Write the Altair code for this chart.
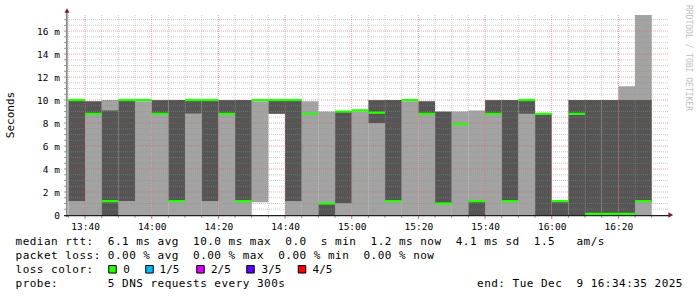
import altair as alt
import pandas as pd
import numpy as np

# ---------------- data ----------------
times = ["13:35", "13:40", "13:45", "13:50", "13:55", "14:00", "14:05", "14:10", "14:15", "14:20",
         "14:25", "14:30", "14:35", "14:40", "14:45", "14:50", "14:55", "15:00", "15:05", "15:10",
         "15:15", "15:20", "15:25", "15:30", "15:35", "15:40", "15:45", "15:50", "15:55", "16:00",
         "16:05", "16:10", "16:15", "16:20", "16:25"]
light_lo = [0, 0, 0, 0, 0, 0, 0, 0, 0, 0, 0, 1.1, None, 0, 0, 1.0, 0, 0, 0, 0,
            0, 0, 0, 0, 1.2, 0, 0, 0, None, None, None, None, None, 0, 0]
light_hi = [1.2, 8.8, 10, 1.2, 9.9, 8.8, 1.2, 8.8, 1.2, 8.8, 1.2, 9.9, None, 1.2, 9.9, 9.0, 1.0, 9.0, 8.0, 1.2,
            9.9, 8.8, 1.0, 9.0, 9.1, 8.8, 1.2, 8.8, None, None, None, None, None, 11.2, 17.4]
dark_lo = [1.2, 8.8, 0, 1.2, None, 8.8, 1.2, 8.8, 1.2, 8.8, 1.2, None, 8.8, 1.2, None, 0, 1.0, None, 8.0, 1.2,
           None, 8.8, 1.0, None, 0, 8.8, 1.2, 8.8, 0, 0, 0, 0, 0, 0, 1.2]
dark_hi = [10, 9.9, 9.1, 10, None, 10, 10, 10, 10, 10, 10, None, 10, 10, None, 1.0, 9.0, None, 10, 10,
           None, 9.9, 9.0, None, 1.2, 10, 10, 10, 8.8, 1.2, 10, 10, 10, 10, 10]
median = [10, 8.8, 1.2, 10, 10, 8.8, 1.2, 10, 10, 8.8, 1.2, 10, 10, 10, 8.8, 1.0, 9.0, 9.1, 8.9, 1.2,
          10, 8.8, 1.0, 7.9, 1.2, 8.8, 1.2, 10, 8.8, 1.2, 8.8, 0.1, 0.1, 0.1, 1.2]

x_tick_labels = ["13:40", "14:00", "14:20", "14:40", "15:00", "15:20", "15:40", "16:00", "16:20"]
y_ticks = [0, 2, 4, 6, 8, 10, 12, 14, 16]

info_lines = [
    "median rtt:  6.1 ms avg  10.0 ms max  0.0  s min  1.2 ms now  4.1 ms sd  1.5   am/s",
    "packet loss: 0.00 % avg  0.00 % max  0.00 % min  0.00 % now",
    "loss color:",
    "probe:       5 DNS requests every 300s",
]
end_text = "end: Tue Dec  9 16:34:35 2025"
loss_labels = ["0", "1/5", "2/5", "3/5", "4/5"]
loss_colors = ["#26ff00", "#00b8ff", "#dd00ff", "#5e00ff", "#ff0000"]

# ---------------- layout / style ----------------
X0, Y0, W, H = 67, 15, 600, 200
LIGHT, DARK, GREEN = "#a3a3a3", "#555555", "#26ff00"
FONT = "DejaVu Sans Mono"
NB = "\u00a0"


def to_min(s):
    h, m = s.split(":")
    return int(h) * 60 + int(m)


t_start = [to_min(t) for t in times]
t0 = 13 * 60 + 34 + 35 / 60.0
xscale = alt.Scale(domain=[t0, t0 + 180], nice=False, zero=False)
yscale = alt.Scale(domain=[0, 17.4], nice=False, zero=True)

xaxis = alt.Axis(values=[to_min(t) for t in x_tick_labels],
                 labelExpr="floor(datum.value/60) + ':' + (datum.value % 60 < 10 ? '0' : '') + (datum.value % 60)",
                 labelFont=FONT, labelFontSize=9.5, labelColor="#000000", labelPadding=6,
                 labelFlush=False, domain=False, ticks=False, grid=False, title=None)
yaxis = alt.Axis(values=y_ticks,
                 labelExpr="datum.value == 0 ? '0" + NB + NB + "' : datum.value + '" + NB + "m'",
                 labelFont=FONT, labelFontSize=9.5, labelColor="#000000", labelPadding=7.5,
                 domain=False, ticks=False, grid=False, title=None)

df = pd.DataFrame({"start": t_start, "end": [t + 5 for t in t_start],
                   "light_lo": light_lo, "light_hi": light_hi,
                   "dark_lo": dark_lo, "dark_hi": dark_hi, "median": median})

light = alt.Chart(df.dropna(subset=["light_lo"])).mark_rect(color=LIGHT).encode(
    x=alt.X("start:Q", scale=xscale, axis=xaxis), x2="end:Q",
    y=alt.Y("light_lo:Q", scale=yscale, axis=yaxis), y2="light_hi:Q")
dark = alt.Chart(df.dropna(subset=["dark_lo"])).mark_rect(color=DARK).encode(
    x=alt.X("start:Q", scale=xscale, axis=xaxis), x2="end:Q",
    y=alt.Y("dark_lo:Q", scale=yscale, axis=yaxis), y2="dark_hi:Q")

# grid positions (axis steps)
h_all = [round(v, 2) for v in np.arange(0.5, 17.01, 0.5)]
h_major = [v for v in h_all if v % 2 == 0]
h_minor = [v for v in h_all if v % 2 != 0]
v_all = list(range(815, 991, 5))
v_major = [v for v in v_all if (v - 820) % 20 == 0]
v_minor = [v for v in v_all if (v - 820) % 20 != 0]

hgrid_minor = alt.Chart(pd.DataFrame({"v": h_minor})).mark_rule(
    color="#8f8f8f", opacity=0.45, strokeDash=[1, 1], strokeWidth=1).encode(
    y=alt.Y("v:Q", scale=yscale, axis=yaxis), x=alt.value(0), x2=alt.value(W + 1))
hgrid_major = alt.Chart(pd.DataFrame({"v": h_major})).mark_rule(
    color="#e05050", opacity=0.5, strokeDash=[1, 1], strokeWidth=1).encode(
    y=alt.Y("v:Q", scale=yscale, axis=yaxis), x=alt.value(0), x2=alt.value(W + 1))
vgrid_minor = alt.Chart(pd.DataFrame({"v": v_minor})).mark_rule(
    color="#8f8f8f", opacity=0.45, strokeDash=[1, 1], strokeWidth=1).encode(
    x=alt.X("v:Q", scale=xscale, axis=xaxis), y=alt.value(0), y2=alt.value(H))
vgrid_major = alt.Chart(pd.DataFrame({"v": v_major})).mark_rule(
    color="#e05050", opacity=0.5, strokeDash=[1, 1], strokeWidth=1).encode(
    x=alt.X("v:Q", scale=xscale, axis=xaxis), y=alt.value(0), y2=alt.value(H))

ytick = alt.Chart(pd.DataFrame({"v": h_all})).mark_rule(color="#9a9a9a", strokeWidth=1).encode(
    y=alt.Y("v:Q", scale=yscale, axis=yaxis), x=alt.value(-3), x2=alt.value(-1))
xtick_minor = alt.Chart(pd.DataFrame({"v": v_minor})).mark_rule(color="#9a9a9a", strokeWidth=1).encode(
    x=alt.X("v:Q", scale=xscale, axis=xaxis), y=alt.value(H + 1), y2=alt.value(H + 3))
xtick_major = alt.Chart(pd.DataFrame({"v": v_major})).mark_rule(color="#e07070", strokeWidth=1).encode(
    x=alt.X("v:Q", scale=xscale, axis=xaxis), y=alt.value(H + 1), y2=alt.value(H + 4))

med = alt.Chart(df).mark_rule(color=GREEN, strokeWidth=2.3, strokeCap="butt").encode(
    x=alt.X("start:Q", scale=xscale, axis=xaxis), x2="end:Q",
    y=alt.Y("median:Q", scale=yscale, axis=yaxis))

inner = alt.layer(light, dark, hgrid_minor, hgrid_major, vgrid_minor, vgrid_major, med,
                  ytick, xtick_minor, xtick_major)

# ---------------- legend / info text (monospace grid) ----------------
ADV, COL0 = 7.1, 15.3
rows = []
lines = list(info_lines)
lines[3] = lines[3] + " " * (65 - len(lines[3])) + end_text
for li, s in enumerate(lines):
    for col, ch in enumerate(s):
        if ch != " ":
            rows.append({"px": COL0 + col * ADV + ADV / 2 - X0,
                         "py": 244.7 + 14.0 * li - Y0, "ch": ch})
chars = alt.Chart(pd.DataFrame(rows)).mark_text(
    font=FONT, fontSize=11, color="#000000", align="center", baseline="alphabetic").encode(
    x=alt.X("px:Q", scale=None, axis=None), y=alt.Y("py:Q", scale=None, axis=None), text="ch:N")

box_x = [112.5, 149.5, 200.5, 250.5, 302.0]
lab_x = [123.3, 159.6, 211.0, 261.6, 312.6]
leg = pd.DataFrame({"label": loss_labels, "color": loss_colors,
                    "bx": [b - X0 for b in box_x], "lx": [l - X0 for l in lab_x]})
leg["by"] = 269.3 - Y0
leg["ly"] = 273.0 - Y0
boxes = alt.Chart(leg).mark_point(shape="square", filled=True, size=56, stroke="#000000",
                                  strokeWidth=1, opacity=1).encode(
    x=alt.X("bx:Q", scale=None, axis=None), y=alt.Y("by:Q", scale=None, axis=None),
    fill=alt.Fill("color:N", scale=None))
box_text = alt.Chart(leg).mark_text(font=FONT, fontSize=11, color="#000000", align="left",
                                    baseline="alphabetic").encode(
    x=alt.X("lx:Q", scale=None, axis=None), y=alt.Y("ly:Q", scale=None, axis=None), text="label:N")

one = alt.Data(values=[{}])
y_line = alt.Chart(one).mark_rule(color="#8c8c8c", strokeWidth=1.8).encode(
    x=alt.value(-0.2), y=alt.value(-3), y2=alt.value(H + 2))
x_line = alt.Chart(one).mark_rule(color="#1e1e1e", strokeWidth=1.3).encode(
    x=alt.value(-3), x2=alt.value(W + 2), y=alt.value(H + 0.6))
arrow_up = alt.Chart(one).mark_point(shape="M-1,0.9L0,-0.9L1,0.9Z", filled=True, size=25,
                                     color="#7f1f1f", opacity=1).encode(
    x=alt.value(0), y=alt.value(-4.5))
arrow_right = alt.Chart(one).mark_point(shape="M-0.9,-1L0.9,0L-0.9,1Z", filled=True, size=29,
                                        color="#7f1f1f", opacity=1).encode(
    x=alt.value(W + 3.8), y=alt.value(H))
y_title = alt.Chart(one).mark_text(text="Seconds", font=FONT, fontSize=11, color="#000000",
                                   angle=270, align="center", baseline="alphabetic").encode(
    x=alt.value(14 - X0), y=alt.value(115 - Y0))
watermark = alt.Chart(one).mark_text(text="RRDTOOL / TOBI OETIKER", font=FONT, fontSize=8,
                                     color="#c0c0c0", angle=90, align="left",
                                     baseline="alphabetic").encode(
    x=alt.value(685.5 - X0), y=alt.value(5 - Y0))

chart = alt.layer(
    inner, y_line, x_line, arrow_up, arrow_right, chars, boxes, box_text, y_title, watermark
).resolve_scale(x="independent", y="independent").properties(
    width=W, height=H,
    padding={"left": X0, "top": Y0, "right": 697 - X0 - W, "bottom": 297 - Y0 - H},
    autosize=alt.AutoSizeParams(type="none"),
    background="white",
).configure_view(stroke=None)

chart.save("out.html", embed_options={"renderer": "svg", "actions": False})
